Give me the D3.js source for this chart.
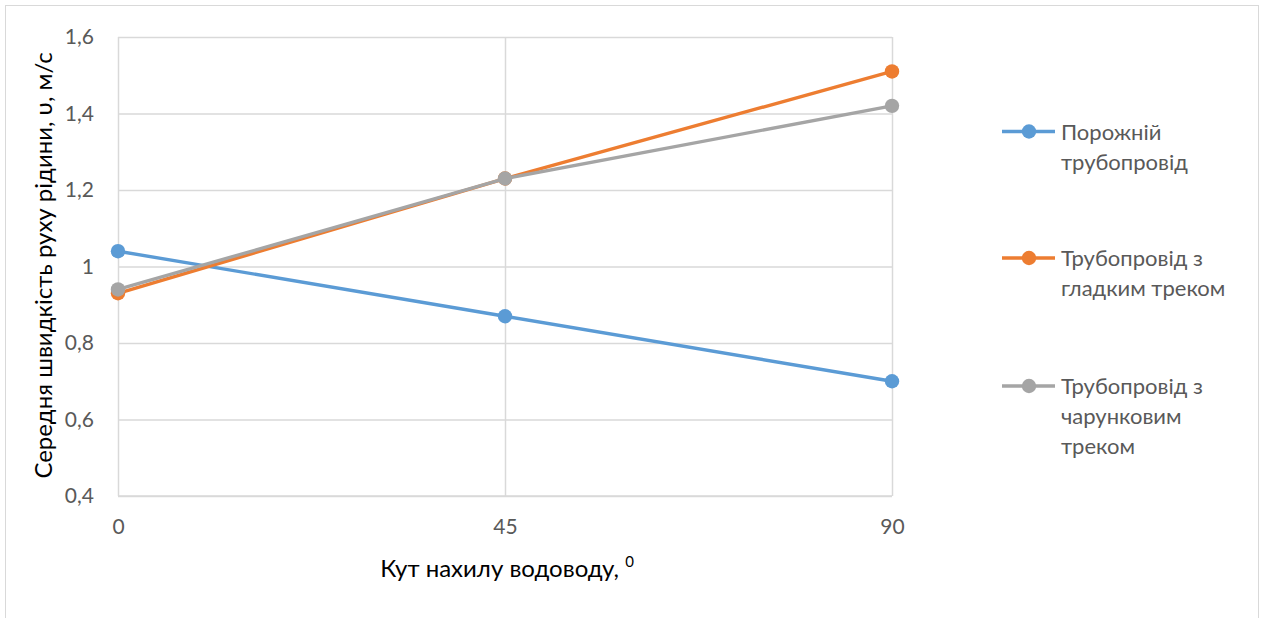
<!DOCTYPE html>
<html>
<head>
<meta charset="utf-8">
<script src="https://cdn.jsdelivr.net/npm/d3@7"></script>
<style>
  html, body { margin: 0; padding: 0; background: #fff; }
  svg { display: block; font-family: Lato, "Open Sans", sans-serif; }
</style>
</head>
<body>
<svg id="chart" width="1267" height="618"></svg>
<script>
// Angle of the pipe (degrees)
const angles = [0, 45, 90];
const yTicks = [0.4, 0.6, 0.8, 1.0, 1.2, 1.4, 1.6];

// Mean flow velocity, m/s
const emptyPipe = [1.04, 0.87, 0.70];
const smoothTrack = [0.93, 1.23, 1.51];
const cellTrack = [0.94, 1.23, 1.42];

const seriesNames = [
  ["Порожній", "трубопровід"],
  ["Трубопровід з", "гладким треком"],
  ["Трубопровід з", "чарунковим", "треком"]
];
const seriesColors = ["#5b9bd5", "#ed7d31", "#a5a5a5"];
const seriesValues = [emptyPipe, smoothTrack, cellTrack];

const FONT = "Lato, 'Open Sans', sans-serif";
const svg = d3.select("#chart");

// chart frame
svg.append("rect")
  .attr("x", 5.5).attr("y", 5.5)
  .attr("width", 1253).attr("height", 620)
  .attr("fill", "#fff").attr("stroke", "#d9d9d9").attr("stroke-width", 1);

const plot = { left: 118, right: 892, top: 37, bottom: 496 };

const x = d3.scaleLinear().domain([0, 90]).range([plot.left, plot.right]);
const y = d3.scaleLinear().domain([0.4, 1.6]).range([plot.bottom, plot.top]);

const fmt = v => d3.format(".1f")(v).replace(".", ",").replace(/,0$/, "");

// horizontal gridlines + value labels
svg.append("g")
  .attr("transform", `translate(${plot.left},0)`)
  .call(d3.axisLeft(y).tickValues(yTicks).tickSize(-(plot.right - plot.left)).tickFormat(fmt).tickPadding(24))
  .call(g => g.select(".domain").remove())
  .call(g => g.selectAll(".tick line").attr("stroke", "#d9d9d9").attr("stroke-width", 1.3))
  .call(g => g.selectAll(".tick text").attr("fill", "#595959").attr("font-size", 21).attr("font-family", FONT));

// vertical gridlines + angle labels
svg.append("g")
  .attr("transform", `translate(0,${plot.bottom})`)
  .call(d3.axisBottom(x).tickValues(angles).tickSize(-(plot.bottom - plot.top)).tickPadding(23).tickFormat(d3.format("d")))
  .call(g => g.select(".domain").remove())
  .call(g => g.selectAll(".tick line").attr("stroke", "#d9d9d9").attr("stroke-width", 1.5))
  .call(g => g.selectAll(".tick text").attr("fill", "#595959").attr("font-size", 21).attr("font-family", FONT));

// bottom axis baseline
svg.append("line")
  .attr("x1", plot.left).attr("x2", plot.right)
  .attr("y1", plot.bottom).attr("y2", plot.bottom)
  .attr("stroke", "#d9d9d9").attr("stroke-width", 1.5);

// series
const line = d3.line().x((d, i) => x(angles[i])).y(d => y(d));
seriesValues.forEach((vals, s) => {
  const g = svg.append("g");
  g.append("path")
    .datum(vals)
    .attr("d", line)
    .attr("fill", "none")
    .attr("stroke", seriesColors[s])
    .attr("stroke-width", 3.4)
    .attr("stroke-linejoin", "round");
  g.selectAll("circle")
    .data(vals)
    .join("circle")
    .attr("cx", (d, i) => x(angles[i]))
    .attr("cy", d => y(d))
    .attr("r", 7.2)
    .attr("fill", seriesColors[s]);
});

// axis titles
svg.append("text")
  .attr("x", 507).attr("y", 577)
  .attr("text-anchor", "middle")
  .attr("font-size", 24).attr("fill", "#000")
  .text("Кут нахилу водоводу, ")
  .append("tspan")
  .attr("dy", -10).attr("font-size", 15)
  .text("0");

svg.append("text")
  .attr("transform", `translate(52,${(plot.top + plot.bottom) / 2 - 1}) rotate(-90)`)
  .attr("text-anchor", "middle")
  .attr("font-size", 24).attr("fill", "#000")
  .text("Середня швидкість руху рідини, υ, м/с");

// legend
const legendY = [131.5, 258, 386];
seriesNames.forEach((lines, s) => {
  const g = svg.append("g").attr("transform", `translate(1002,${legendY[s]})`);
  g.append("line").attr("x1", 0).attr("x2", 53).attr("y1", 0).attr("y2", 0)
    .attr("stroke", seriesColors[s]).attr("stroke-width", 3.4);
  g.append("circle").attr("cx", 27).attr("cy", 0).attr("r", 7.2).attr("fill", seriesColors[s]);
  const t = g.append("text").attr("x", 59).attr("y", 8)
    .attr("font-size", 22).attr("fill", "#595959");
  lines.forEach((ln, i) => {
    t.append("tspan").attr("x", 59).attr("dy", i === 0 ? 0 : 30).text(ln);
  });
});
</script>
</body>
</html>
